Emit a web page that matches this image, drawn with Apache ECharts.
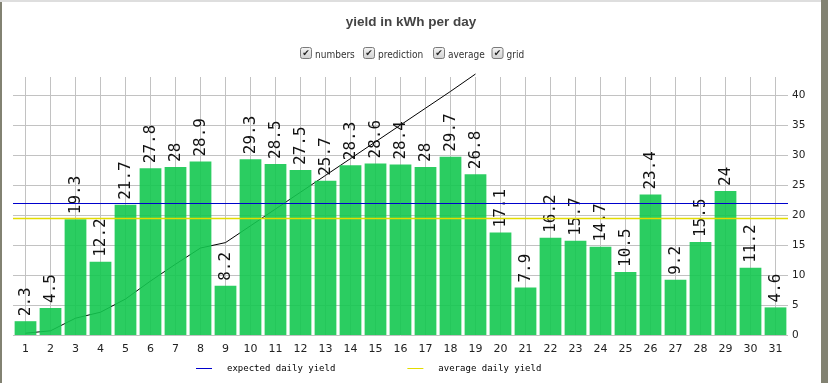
<!DOCTYPE html>
<html>
<head>
<meta charset="utf-8">
<script src="https://cdn.jsdelivr.net/npm/echarts@6/dist/echarts.min.js"></script>
<style>
html,body{margin:0;padding:0;background:#fff;}
#chart{width:828px;height:383px;}
</style>
</head>
<body>
<div id="chart"></div>
<script>
const days = ['1','2','3','4','5','6','7','8','9','10','11','12','13','14','15','16','17','18','19','20','21','22','23','24','25','26','27','28','29','30','31'];
const yieldValues = [2.3,4.5,19.3,12.2,21.7,27.8,28,28.9,8.2,29.3,28.5,27.5,25.7,28.3,28.6,28.4,28,29.7,26.8,17.1,7.9,16.2,15.7,14.7,10.5,23.4,9.2,15.5,24,11.2,4.6];
const predictionValues = [0.3,0.7,2.8,3.8,6.0,9.0,11.8,14.5,15.4,18.2,21.0,23.8,26.6,29.4,32.2,35.0,37.8,40.6,43.5];
const expectedDaily = 22;
const averageDaily = 19.47;
const yTicks = [0,5,10,15,20,25,30,35,40];
const checkboxLabels = ['numbers','prediction','average','grid'];

const chart = echarts.init(document.getElementById('chart'), null, {renderer:'canvas'});

const cbX = [300, 363, 433, 491.5];
const graphics = [
  {type:'rect', shape:{x:0,y:0,width:2,height:383}, style:{fill:'#828272'}, silent:true},
  {type:'rect', shape:{x:821,y:0,width:7,height:383}, style:{fill:'#828272'}, silent:true},
  {type:'rect', shape:{x:0,y:0,width:821,height:2}, style:{fill:'#dedede'}, silent:true}
];
checkboxLabels.forEach((t,i)=>{
  const x = cbX[i];
  graphics.push({type:'rect', shape:{x:x+0.5,y:47.5,width:11,height:11,r:2},
    style:{fill:new echarts.graphic.LinearGradient(0,0,0,1,[{offset:0,color:'#f6f6f6'},{offset:1,color:'#cfcfcf'}]), stroke:'#7a7a7a', lineWidth:1}, silent:true});
  graphics.push({type:'text', x:x+6, y:53.5, style:{text:'\u2714', fill:'#222', font:'9px "DejaVu Sans"', align:'center', verticalAlign:'middle'}, silent:true});
  graphics.push({type:'text', x:x+15, y:55, style:{text:t, fill:'#333', font:'10px "DejaVu Sans Condensed", "DejaVu Sans"', align:'left', verticalAlign:'middle'}, silent:true});
});

const gridLines = days.map(d=>({xAxis:d})).concat(yTicks.map(v=>({yAxis:v})));

chart.setOption({
  animation:false,
  backgroundColor:'#fff',
  title:{text:'yield in kWh per day', left:411, top:15, textAlign:'center', padding:0,
    textStyle:{fontFamily:'"Liberation Sans", Arial, sans-serif', fontWeight:'bold', fontSize:13.5, color:'#444'}},
  graphic:graphics,
  legend:{
    data:[{name:'expected daily yield', icon:'rect'},{name:'average daily yield', icon:'rect'}],
    left:196, top:364, itemWidth:16, itemHeight:1, itemGap:72, padding:0,
    textStyle:{fontFamily:'"DejaVu Sans Mono", monospace', fontSize:9, color:'#000', padding:[0,0,0,10]},
    selectedMode:false
  },
  grid:{left:13, right:40, top:77, bottom:48, containLabel:false},
  xAxis:{type:'category', data:days, boundaryGap:true,
    axisLine:{show:false}, axisTick:{show:false}, splitLine:{show:false},
    axisLabel:{interval:0, margin:9, fontSize:11, color:'#222', fontFamily:'"DejaVu Sans", sans-serif'}},
  yAxis:{type:'value', position:'right', min:0, max:43, interval:5,
    axisLine:{show:false}, axisTick:{show:false}, splitLine:{show:false},
    axisLabel:{margin:4, fontSize:10.5, color:'#222', fontFamily:'"DejaVu Sans", sans-serif',
      formatter:v => (v % 5 === 0 ? String(v) : '')}},
  series:[
    {name:'grid', type:'line', data:[], silent:true, z:0,
      markLine:{silent:true, z:0, symbol:['none','none'], label:{show:false}, animation:false,
        lineStyle:{color:'#c2c2c2', width:1, type:'solid'}, emphasis:{disabled:true}, data:gridLines}},
    {name:'prediction', type:'line', data:predictionValues, z:1, clip:false, showSymbol:false, symbol:'none',
      lineStyle:{color:'#000', width:1}, silent:true},
    {name:'yield', type:'bar', data:yieldValues, z:2, barCategoryGap:'13%',
      itemStyle:{color:'rgba(20,200,80,0.9)'},
      label:{show:true, position:'top', rotate:90, align:'left', verticalAlign:'middle', distance:5,
        fontFamily:'"DejaVu Sans Mono", monospace', fontSize:16, color:'#111'}, silent:true},
    {name:'expected daily yield', type:'line', data:[], color:'#0000cc',
      markLine:{silent:true, z:6, symbol:['none','none'], label:{show:false},
        lineStyle:{color:'#0000cc', width:1, type:'solid'}, data:[{yAxis:expectedDaily}]}},
    {name:'average daily yield', type:'line', data:[], color:'#e3dc00',
      markLine:{silent:true, z:6, symbol:['none','none'], label:{show:false},
        lineStyle:{color:'#e3dc00', width:1.3, type:'solid'}, data:[{yAxis:averageDaily}]}}
  ]
});
</script>
</body>
</html>
